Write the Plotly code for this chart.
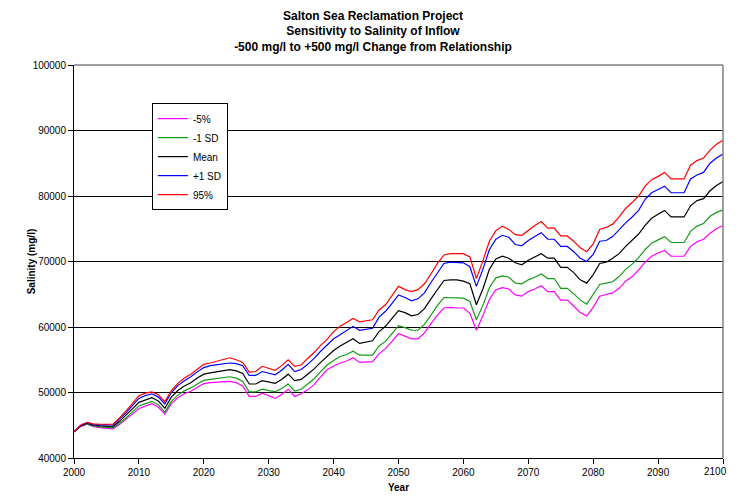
import plotly.graph_objects as go

years = list(range(2000, 2101))
x_tick_vals = list(range(2000, 2101, 10))
x_tick_text = [str(v) for v in x_tick_vals[:-1]] + [""]
last_tick_label = str(x_tick_vals[-1])

mean = [44000, 44900, 45300, 45000, 44900, 44900, 44800, 45600, 46500, 47500,
        48500, 48900, 49200, 48700, 47600, 49300, 50300, 51000, 51500, 52200,
        52800, 53000, 53200, 53300, 53500, 53300, 52900, 51300, 51300, 51800,
        51600, 51400, 52000, 52800, 51800, 52000, 52800, 53600, 54600, 55500,
        56400, 57100, 57600, 58200, 57500, 57700, 57900, 59300, 60100, 61300,
        62500, 62200, 61700, 61900, 62800, 64300, 65800, 67100, 67200, 67200,
        67000, 66600, 63400, 65800, 68800, 70400, 70800, 70500, 69800, 69500,
        70200, 70700, 71200, 70500, 70500, 69100, 69100, 68300, 67200, 66700,
        68000, 69700, 69900, 70500, 71200, 72300, 73200, 74200, 75500, 76600,
        77200, 77800, 76800, 76800, 76800, 78500, 79300, 79600, 80800, 81600,
        82200]

p95 = [44000, 45000, 45450, 45200, 45150, 45200, 45150, 46100, 47150, 48300,
       49500, 49900, 50100, 49650, 48600, 50300, 51400, 52200, 52800, 53600,
       54300, 54500, 54800, 55000, 55300, 55000, 54600, 53100, 53200, 54000,
       53700, 53400, 54100, 55000, 54000, 54200, 55200, 56100, 57200, 58100,
       59300, 60100, 60700, 61300, 60800, 60900, 61100, 62600, 63400, 64800,
       66200, 65700, 65400, 65700, 66600, 68100, 69700, 71000, 71200, 71200,
       71200, 70700, 67400, 70100, 73100, 74700, 75400, 74900, 74100, 74000,
       74800, 75500, 76100, 75100, 75100, 73900, 73900, 73100, 72100, 71500,
       72700, 74900, 75200, 75700, 76800, 78100, 79000, 80000, 81500, 82500,
       83000, 83600, 82600, 82600, 82600, 84700, 85400, 85800, 87000, 87900,
       88500]

plus1sd = [44000, 44950, 45400, 45100, 45050, 45100, 45000, 45900, 46900, 48000,
           49100, 49550, 49800, 49300, 48250, 50000, 51050, 51800, 52400, 53150,
           53800, 54100, 54250, 54300, 54500, 54400, 54100, 52600, 52600, 53200,
           53000, 52700, 53400, 54300, 53200, 53500, 54300, 55200, 56300, 57200,
           58200, 58800, 59500, 60100, 59500, 59700, 59800, 61500, 62400, 63600,
           64900, 64500, 64000, 64300, 65200, 66800, 68300, 69700, 69900, 69900,
           69800, 69200, 66200, 68800, 71800, 73400, 74000, 73700, 72600, 72400,
           73200, 73800, 74400, 73400, 73400, 72300, 72300, 71500, 70500, 70000,
           71100, 73100, 73200, 73800, 74900, 75900, 76800, 77800, 79500, 80500,
           81000, 81500, 80500, 80500, 80500, 82600, 83200, 83600, 85000, 85800,
           86400]

minus1sd = [44000, 44850, 45200, 44900, 44750, 44700, 44600, 45300, 46100, 47050,
            47950, 48300, 48650, 48100, 47000, 48650, 49600, 50250, 50700, 51300,
            51850, 52000, 52150, 52200, 52400, 52200, 51700, 50100, 50100, 50500,
            50300, 50100, 50600, 51300, 50200, 50500, 51300, 52100, 53200, 54200,
            54900, 55500, 55800, 56300, 55700, 55700, 55700, 57100, 57800, 59000,
            60200, 59900, 59500, 59500, 60400, 61800, 63300, 64500, 64500, 64500,
            64400, 63900, 61100, 63300, 66000, 67500, 67800, 67600, 66700, 66600,
            67200, 67600, 68100, 67400, 67400, 65900, 65900, 65100, 64100, 63500,
            65000, 66500, 66700, 66900, 67700, 68800, 69600, 70600, 71800, 72800,
            73300, 73800, 72900, 72900, 72900, 74600, 75400, 75800, 76900, 77500,
            77900]

p5 = [44000, 44800, 45150, 44800, 44650, 44600, 44450, 45100, 45850, 46700,
      47550, 47950, 48300, 47750, 46700, 48300, 49200, 49800, 50200, 50800,
      51350, 51500, 51600, 51600, 51700, 51500, 51000, 49400, 49400, 49900,
      49500, 49100, 49700, 50500, 49400, 49800, 50400, 51200, 52400, 53500,
      54000, 54500, 54800, 55300, 54600, 54600, 54700, 55900, 56700, 57800,
      59000, 58600, 58200, 58200, 59100, 60500, 61800, 62900, 63000, 62900,
      62900, 62100, 59500, 61700, 64200, 65700, 66000, 65800, 64900, 64700,
      65400, 65800, 66300, 65400, 65400, 64100, 64100, 63200, 62200, 61700,
      63000, 64700, 64900, 65200, 65900, 67000, 67700, 68700, 69900, 70800,
      71300, 71700, 70800, 70800, 70800, 72300, 73000, 73400, 74300, 75000,
      75500]

series = [
    ("-5%", p5, "#FF00FF"),
    ("-1 SD", minus1sd, "#169a16"),
    ("Mean", mean, "#000000"),
    ("+1 SD", plus1sd, "#0000FF"),
    ("95%", p95, "#FF0000"),
]

fig = go.Figure()
for name, vals, col in series:
    fig.add_trace(go.Scatter(x=years, y=vals, mode="lines", name=name,
                             line=dict(color=col, width=1.2)))

font_family = "Liberation Sans, Arial, sans-serif"

# The page body has an 8px margin, so the figure is sized to fit the rest of the window.
fig.update_layout(
    width=730, height=485,
    margin=dict(l=66, r=15, t=57, b=35),
    paper_bgcolor="white", plot_bgcolor="white",
    font=dict(family=font_family, size=10, color="#000000"),
    title=dict(
        text="<b>Salton Sea Reclamation Project<br>Sensitivity to Salinity of Inflow<br>"
             "-500 mg/l to +500 mg/l Change from Relationship</b>",
        x=0.5, xanchor="center", y=0.9755, yanchor="top",
        font=dict(family=font_family, size=12, color="#000000"),
    ),
    showlegend=True,
    legend=dict(x=0.12, y=0.903, xanchor="left", yanchor="top",
                bgcolor="white", bordercolor="#000000", borderwidth=1,
                font=dict(size=10), tracegroupgap=0),
    xaxis=dict(
        range=[2000, 2100], tickmode="array",
        tickvals=x_tick_vals, ticktext=x_tick_text,
        showgrid=False, zeroline=False, automargin=False,
        showline=True, linecolor="#000000", linewidth=1,
        ticks="outside", ticklen=5, tickcolor="#000000",
        title=dict(text="<b>Year</b>", font=dict(size=10), standoff=9),
    ),
    yaxis=dict(
        range=[40000, 100000], dtick=10000, tick0=40000,
        tickformat="d", automargin=False,
        showgrid=True, gridcolor="#000000", gridwidth=1,
        zeroline=False,
        showline=True, linecolor="#000000", linewidth=1,
        ticks="outside", ticklen=5, tickcolor="#000000",
    ),
    annotations=[
        dict(
            text="<b>Salinity (mg/l)</b>", textangle=-90,
            xref="paper", yref="paper", x=-0.065, y=0.5,
            xanchor="center", yanchor="middle", showarrow=False,
            font=dict(family=font_family, size=10, color="#000000"),
        ),
        dict(
            text=last_tick_label, xref="x", yref="paper",
            x=x_tick_vals[-1], y=0, xanchor="right", yanchor="middle",
            xshift=6, yshift=-13, showarrow=False,
            font=dict(family=font_family, size=10, color="#000000"),
        ),
    ],
)

fig.add_shape(type="line", xref="paper", yref="paper", x0=0, x1=1, y0=1, y1=1,
              line=dict(color="#808080", width=1.5))
fig.add_shape(type="line", xref="paper", yref="paper", x0=1, x1=1, y0=0, y1=1,
              line=dict(color="#808080", width=1.5))

fig.write_html("out.html")
